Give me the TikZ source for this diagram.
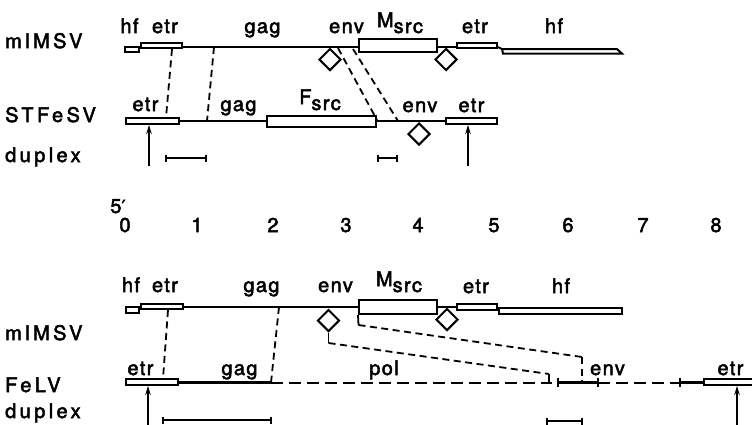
\documentclass[tikz,border=0pt]{standalone}
\usepackage{fontspec}
\setmainfont{TeX Gyre Heros}[LetterSpace=7,FakeBold=2.5]
\newfontfamily\lftfont{TeX Gyre Heros}[LetterSpace=17,FakeBold=2.5]
\newfontfamily\dv{DejaVu Sans}[FakeBold=2]
\usetikzlibrary{shapes.geometric,arrows.meta,calc}
\begin{document}
\begin{tikzpicture}[x=1pt,y=-1pt,
  lbl/.style={anchor=base, inner sep=0, font=\fontsize{20}{22}\selectfont},
  lft/.style={anchor=base west, inner sep=0, font=\lftfont\fontsize{20}{22}\selectfont},
  gbox/.style={draw, rectangle, line width=2pt, fill=white, inner sep=0},
  dmd/.style={draw, diamond, aspect=1, minimum width=22pt, minimum height=22pt, inner sep=0, line width=2pt, fill=white, anchor=north},
  seg/.style={line width=2.1pt},
  thin/.style={line width=1.8pt},
  conn/.style={line width=1.8pt, dash pattern=on 7pt off 4.5pt},
  fdash/.style={line width=2pt, dash pattern=on 12pt off 6pt},
  upar/.style={line width=1.8pt, -{Stealth[length=9pt,width=5.5pt]}},
  sbar/.style={line width=2pt, {Bar[width=7pt]}-{Bar[width=7pt]}},
]
\useasboundingbox (0,0) rectangle (752,424);
\fill[white] (0,0) rectangle (752,424);

% ---------- left labels
\node[lft] (l1) at (5,48) {mlMSV};
\node[lft] (l2) at (5,122) {STFeSV};
\node[lft] (l3) at (5,162) {duplex};
\node[lft] (l4) at (5,340) {mlMSV};
\node[lft] (l5) at (5,392) {FeLV};
\node[lft] (l6) at (5,418) {duplex};

% ---------- row 1 : mlMSV (top)
\coordinate (r1) at (0,47);
\node[gbox, minimum width=14pt, minimum height=4.5pt] (hf1) at (132,49.5) {};
\node[gbox, minimum width=41pt, minimum height=5pt] (etr1) at (161.5,45.5) {};
\node[gbox, minimum width=78pt, minimum height=13pt] (Msrc1) at (398,45.5) {};
\node[gbox, minimum width=40pt, minimum height=5pt] (etr1b) at (477,45.5) {};
\draw[seg] (etr1.east |- r1) -- (Msrc1.west |- r1);
\draw[seg] (Msrc1.east |- r1) -- (etr1b.west |- r1);
\draw[line width=2pt, fill=white, line join=miter] (498,47) -- (502,49) -- (617,49) -- (622,53.6) -- (503,53.6) -- (502,49);
\node[dmd] (d1) at (330,47.5) {};
\node[dmd] (d2) at (446,47.5) {};

\node[lbl] (t1a) at (129.5,33) {hf};
\node[lbl] (t1b) at (165,33) {etr};
\node[lbl] (t1c) at (262.5,33) {gag};
\node[lbl] (t1d) at (346.5,33) {env};
\node[lbl] (t1e) at (400,27) {M\raisebox{-6pt}{src}};
\node[lbl] (t1f) at (475,33) {etr};
\node[lbl] (t1g) at (554,33) {hf};

% ---------- row 2 : STFeSV
\coordinate (r2) at (0,121);
\node[gbox, minimum width=53pt, minimum height=6pt] (etr2) at (152.5,121) {};
\node[gbox, minimum width=109pt, minimum height=11pt] (Fsrc2) at (321.5,121.5) {};
\node[gbox, minimum width=51pt, minimum height=6pt] (etr2b) at (471.5,121) {};
\draw[seg] (etr2.east |- r2) -- (Fsrc2.west |- r2);
\draw[seg] (Fsrc2.east |- r2) -- (etr2b.west |- r2);
\node[dmd] (d3) at (419,122) {};

\node[lbl] (t2a) at (145.5,111) {etr};
\node[lbl] (t2b) at (238.5,111) {gag};
\node[lbl] (t2c) at (320,104) {F\raisebox{-6pt}{src}};
\node[lbl] (t2d) at (420,112) {env};
\node[lbl] (t2e) at (471.5,112) {etr};

% connectors row1 -> row2
\coordinate (c1a) at (172,49);  \coordinate (c1b) at (166,117.5);
\coordinate (c2a) at (214,47);  \coordinate (c2b) at (207,121);
\coordinate (c3a) at (338,48);  \coordinate (c3b) at (377,120);
\coordinate (c4a) at (353,49);  \coordinate (c4b) at (398,121);
\draw[conn] (c1a) -- (c1b);
\draw[conn] (c2a) -- (c2b);
\draw[conn] (c3a) -- (c3b);
\draw[conn] (c4a) -- (c4b);

% duplex (top)
\coordinate (a1) at (149,166);
\coordinate (a2) at (468,166);
\draw[upar] (a1) -- (a1 |- etr2.south);
\draw[upar] (a2) -- (a2 |- etr2b.south);
\coordinate (s1a) at (165,158); \coordinate (s1b) at (207,158);
\coordinate (s2a) at (377,158); \coordinate (s2b) at (398,158);
\draw[sbar] (s1a) -- (s1b);
\draw[sbar] (s2a) -- (s2b);

% ---------- scale
\node[lbl] (p5) at (118,213) {5{\dv\fontsize{18}{18}\selectfont ′}};
\foreach \k/\xx in {0/125,1/197,2/273,3/346,4/418,5/494,6/568,7/643,8/716}{
  \node[lbl] (n\k) at (\xx,232) {\k};
}

% ---------- row 3 : mlMSV (bottom)
\coordinate (r3) at (0,307);
\node[gbox, minimum width=13pt, minimum height=6pt] (hf3) at (132.5,310) {};
\node[gbox, minimum width=42pt, minimum height=5pt] (etr3) at (162,306.5) {};
\node[gbox, minimum width=78pt, minimum height=14pt] (Msrc3) at (398,307) {};
\node[gbox, minimum width=40pt, minimum height=6pt] (etr3b) at (477,307) {};
\node[gbox, minimum width=123pt, minimum height=6pt] (hf3b) at (560.5,311) {};
\draw[seg] (etr3.east |- r3) -- (Msrc3.west |- r3);
\draw[seg] (Msrc3.east |- r3) -- (etr3b.west |- r3);
\node[dmd] (d4) at (328.5,308.5) {};
\node[dmd] (d5) at (447,307.5) {};

\node[lbl] (t3a) at (131,292) {hf};
\node[lbl] (t3b) at (165,292) {etr};
\node[lbl] (t3c) at (261.5,292) {gag};
\node[lbl] (t3d) at (335.5,292) {env};
\node[lbl] (t3e) at (399,286) {M\raisebox{-6pt}{src}};
\node[lbl] (t3f) at (476,293) {etr};
\node[lbl] (t3g) at (561,293) {hf};

% ---------- row 4 : FeLV
\coordinate (r4) at (0,382.5);
\node[gbox, minimum width=52pt, minimum height=6pt] (etr4) at (152,382) {};
\node[gbox, minimum width=60pt, minimum height=6pt] (etr4b) at (734,382) {};
\coordinate (g4) at (271,382.5);
\coordinate (pe) at (552,382.5);
\coordinate (eL) at (558,382.5);
\coordinate (eR) at (598,382.5);
\coordinate (tk) at (680,382.5);
\draw[seg] (etr4.east |- r4) -- (g4);
\draw[fdash] (g4) -- (pe);
\draw[seg] (eL) -- (eR);
\draw[seg] ($(eL)+(0,-4.5)$) -- ($(eL)+(0,4.5)$);
\draw[seg] ($(eR)+(0,-4.5)$) -- ($(eR)+(0,4.5)$);
\draw[fdash] (eR) -- (tk);
\draw[seg] ($(tk)+(0,-4.5)$) -- ($(tk)+(0,4.5)$);
\draw[seg] (tk) -- (etr4b.west |- r4);

\node[lbl] (t4a) at (140.5,375) {etr};
\node[lbl] (t4b) at (239.5,375) {gag};
\node[lbl] (t4c) at (384,375) {pol};
\node[lbl] (t4d) at (607.5,375) {env};
\node[lbl] (t4e) at (730.5,375) {etr};

% connectors row3 -> row4
\coordinate (e1a) at (168,310);  \coordinate (e1b) at (163,378.5);
\coordinate (e2a) at (279,307);
\draw[conn] (e1a) -- (e1b);
\draw[conn] (e2a) -- (g4);
% pol / env mapping
\coordinate (q1) at (328.5,343);
\coordinate (q2) at (549,374);
\coordinate (q3) at (549,382.5);
\draw[thin] (d4.south) -- (q1);
\draw[conn] (q1) -- (q2);
\draw[thin] (q2) -- (q3);
\coordinate (m1) at (358.5,325);
\coordinate (m2) at (582,357);
\coordinate (m3) at (582,382.5);
\draw[thin] (Msrc3.south west) -- (m1);
\draw[conn] (m1) -- (m2);
\draw[conn] (m2) -- (m3);

% duplex (bottom)
\coordinate (a3) at (148,430);
\coordinate (a4) at (737,430);
\draw[upar] (a3) -- (a3 |- etr4.south);
\draw[upar] (a4) -- (a4 |- etr4b.south);
\coordinate (s3a) at (162,420); \coordinate (s3b) at (272,420);
\coordinate (s4a) at (546,421); \coordinate (s4b) at (583,421);
\draw[sbar] (s3a) -- (s3b);
\draw[sbar] (s4a) -- (s4b);
\end{tikzpicture}
\end{document}
